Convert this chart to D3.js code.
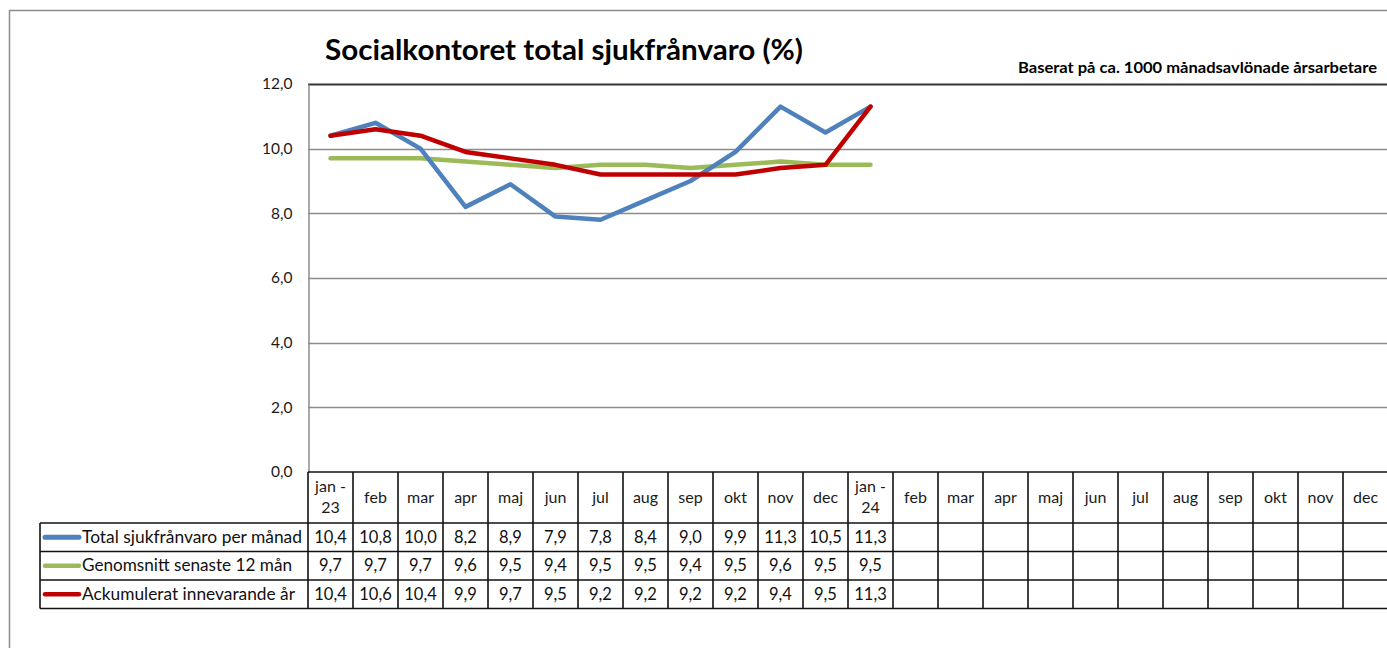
<!DOCTYPE html>
<html>
<head>
<meta charset="utf-8">
<script src="https://cdnjs.cloudflare.com/ajax/libs/d3/7.8.5/d3.min.js"></script>
<style>
  body { margin: 0; background: #fff; }
  svg text { font-family: Lato, "Open Sans", sans-serif; }
</style>
</head>
<body>
<script>
// months shown along the table header
var months = ["jan -|23","feb","mar","apr","maj","jun","jul","aug","sep","okt","nov","dec",
              "jan -|24","feb","mar","apr","maj","jun","jul","aug","sep","okt","nov","dec"];
var yTicks = [0, 2, 4, 6, 8, 10, 12];

var seriesNames = ["Total sjukfrånvaro per månad", "Genomsnitt senaste 12 mån", "Ackumulerat innevarande år"];
var seriesColors = ["#4f81bd", "#9bbb59", "#c00000"];
var total = [10.4, 10.8, 10.0, 8.2, 8.9, 7.9, 7.8, 8.4, 9.0, 9.9, 11.3, 10.5, 11.3];
var snitt = [9.7, 9.7, 9.7, 9.6, 9.5, 9.4, 9.5, 9.5, 9.4, 9.5, 9.6, 9.5, 9.5];
var ackum = [10.4, 10.6, 10.4, 9.9, 9.7, 9.5, 9.2, 9.2, 9.2, 9.2, 9.4, 9.5, 11.3];
var seriesValues = [total, snitt, ackum];

var W = 1387, H = 648;
var svg = d3.select("body").append("svg").attr("width", W).attr("height", H);

var plotL = 308, plotR = 1388, plotT = 84, plotB = 472;
var x = d3.scaleBand().domain(d3.range(months.length)).range([plotL, plotR]);
var y = d3.scaleLinear().domain([0, 12]).range([plotB, plotT]);

// stretch a text to a given width (the original font is wider than Lato)
function widen(sel, w) {
  sel.attr("textLength", w).attr("lengthAdjust", "spacingAndGlyphs");
}

// outer chart frame (cut at right/bottom)
svg.append("path")
  .attr("d", "M9.5," + H + "V10.5H" + W)
  .attr("fill", "none").attr("stroke", "#8c8c8c").attr("stroke-width", 1.5);

// title
svg.append("text")
  .attr("x", 325).attr("y", 60)
  .style("font-size", "28px").style("font-weight", "bold")
  .text("Socialkontoret total sjukfrånvaro (%)")
  .call(widen, 478);
svg.append("text")
  .attr("x", 1018).attr("y", 73)
  .style("font-size", "14.5px").style("font-weight", "bold")
  .text("Baserat på ca. 1000 månadsavlönade årsarbetare")
  .call(widen, 359);

// gridlines
svg.append("g").selectAll("line")
  .data(yTicks.filter(function(d){ return d > 0; }))
  .enter().append("line")
  .attr("x1", plotL).attr("x2", plotR)
  .attr("y1", function(d){ return Math.round(y(d)) + 0.5; })
  .attr("y2", function(d){ return Math.round(y(d)) + 0.5; })
  .attr("stroke", function(d){ return d == 12 ? "#333" : "#8c8c8c"; })
  .attr("stroke-width", function(d){ return d == 12 ? 2 : 1.5; });

// y axis
var yAxis = d3.axisLeft(y).tickValues(yTicks).tickSize(0).tickPadding(16)
  .tickFormat(function(d){ return d3.format(".1f")(d).replace(".", ","); });
var ga = svg.append("g").attr("transform", "translate(" + (plotL + 0.5) + ",0)").call(yAxis);
ga.select(".domain").attr("stroke", "#8c8c8c").attr("stroke-width", 1.5);
ga.selectAll("text").style("font-size", "15.5px").attr("fill", "#1a1a1a")
  .style("font-family", "Lato, sans-serif");

// lines: green, blue, red
var line = d3.line()
  .x(function(d, i){ return x(i) + x.bandwidth() / 2; })
  .y(function(d){ return y(d); });
[1, 0, 2].forEach(function(k){
  svg.append("path")
    .datum(seriesValues[k])
    .attr("d", line)
    .attr("fill", "none")
    .attr("stroke", seriesColors[k])
    .attr("stroke-width", 4.5)
    .attr("stroke-linejoin", "round")
    .attr("stroke-linecap", "round");
});

// data table
var rowTop = [472, 523, 551.5, 580, 608.5];
var legL = 40;
var labelW = [220, 210, 213];
var tbl = svg.append("g");
var fmt = function(v){ return d3.format(".1f")(v).replace(".", ","); };

// header labels
months.forEach(function(m, i){
  var parts = m.split("|");
  var cx = x(i) + x.bandwidth() / 2;
  var t = tbl.append("text")
    .attr("x", cx)
    .attr("text-anchor", "middle")
    .style("font-size", "16px").attr("fill", "#1a1a1a");
  if (parts.length == 2) {
    t.attr("y", 492);
    t.append("tspan").attr("x", cx).text(parts[0]);
    t.append("tspan").attr("x", cx).attr("dy", 21).text(parts[1]);
  } else {
    t.attr("y", 503).text(m);
  }
});

// value rows
seriesValues.forEach(function(vals, r){
  var cy = (rowTop[r + 1] + rowTop[r + 2]) / 2 + 5.5;
  tbl.append("line")
    .attr("x1", legL + 5).attr("x2", legL + 39)
    .attr("y1", cy - 5.5).attr("y2", cy - 5.5)
    .attr("stroke", seriesColors[r]).attr("stroke-width", r == 0 ? 5 : 4.5)
    .attr("stroke-linecap", "round");
  tbl.append("text")
    .attr("x", legL + 42).attr("y", cy)
    .style("font-size", "16.5px").attr("fill", "#111")
    .text(seriesNames[r])
    .call(widen, labelW[r]);
  vals.forEach(function(v, i){
    tbl.append("text")
      .attr("x", x(i) + x.bandwidth() / 2).attr("y", cy)
      .attr("text-anchor", "middle")
      .style("font-size", "16.5px").attr("fill", "#111")
      .text(fmt(v));
  });
});

// grid of the table
var bc = "#111", bw = 1.6;
rowTop.forEach(function(yy, j){
  tbl.append("line")
    .attr("x1", j == 0 ? plotL : legL).attr("x2", plotR)
    .attr("y1", yy).attr("y2", yy)
    .attr("stroke", bc).attr("stroke-width", bw);
});
tbl.append("line")
  .attr("x1", legL).attr("x2", legL)
  .attr("y1", rowTop[1]).attr("y2", rowTop[4])
  .attr("stroke", bc).attr("stroke-width", bw);
d3.range(months.length + 1).forEach(function(i){
  var xx = i < months.length ? x(i) : plotR;
  tbl.append("line")
    .attr("x1", xx).attr("x2", xx)
    .attr("y1", rowTop[0]).attr("y2", rowTop[4])
    .attr("stroke", bc).attr("stroke-width", bw);
});
</script>
</body>
</html>
